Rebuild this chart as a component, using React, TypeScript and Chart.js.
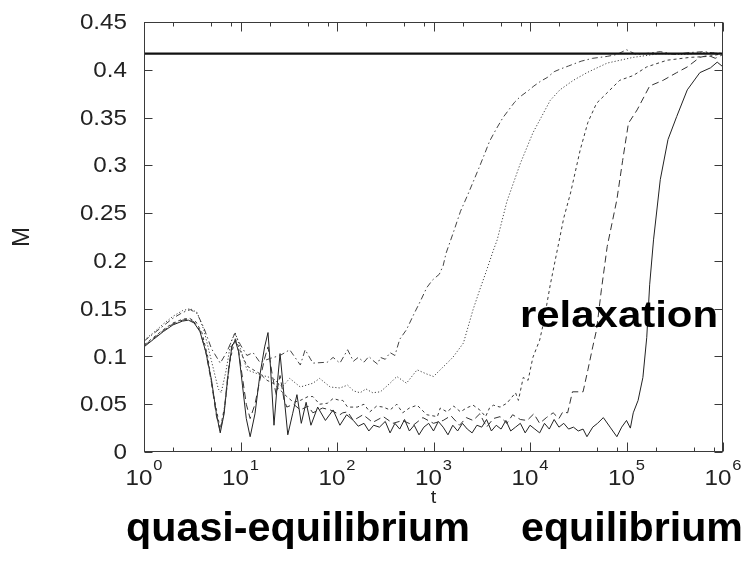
import React, { useEffect, useRef } from 'react';
import { Chart, registerables } from 'chart.js';

Chart.register(...registerables);

// ---------- data (t given as log10 t, M) ----------
const logT_solid = [0, 0.1, 0.2, 0.3, 0.4, 0.46, 0.52, 0.58, 0.64, 0.7, 0.75, 0.79, 0.83, 0.87, 0.91, 0.945, 0.98, 1.02, 1.06, 1.1, 1.15, 1.2, 1.25, 1.285, 1.31, 1.347, 1.38, 1.41, 1.45, 1.49, 1.54, 1.585, 1.63, 1.68, 1.73, 1.8, 1.88, 1.96, 2.03, 2.1, 2.17, 2.22, 2.28, 2.33, 2.38, 2.44, 2.5, 2.55, 2.6, 2.65, 2.7, 2.75, 2.8, 2.85, 2.9, 2.95, 3.0, 3.05, 3.1, 3.15, 3.2, 3.25, 3.3, 3.35, 3.4, 3.45, 3.5, 3.55, 3.6, 3.65, 3.7, 3.75, 3.8, 3.85, 3.9, 3.95, 4.0, 4.05, 4.1, 4.15, 4.2, 4.25, 4.3, 4.35, 4.4, 4.45, 4.5, 4.55, 4.59, 4.65, 4.7, 4.76, 4.83, 4.9, 4.95, 5.0, 5.04, 5.07, 5.12, 5.17, 5.21, 5.24, 5.28, 5.35, 5.43, 5.52, 5.63, 5.76, 5.87, 5.94, 6.0];
const m_solid = [0.110, 0.118, 0.126, 0.133, 0.137, 0.138, 0.135, 0.126, 0.105, 0.075, 0.040, 0.020, 0.040, 0.080, 0.110, 0.117, 0.105, 0.070, 0.035, 0.016, 0.040, 0.080, 0.110, 0.125, 0.090, 0.028, 0.070, 0.103, 0.060, 0.018, 0.040, 0.060, 0.030, 0.052, 0.028, 0.047, 0.033, 0.044, 0.028, 0.039, 0.033, 0.027, 0.030, 0.022, 0.028, 0.026, 0.032, 0.020, 0.030, 0.024, 0.034, 0.022, 0.028, 0.018, 0.026, 0.030, 0.022, 0.032, 0.026, 0.018, 0.028, 0.022, 0.030, 0.024, 0.020, 0.028, 0.026, 0.034, 0.022, 0.028, 0.024, 0.033, 0.022, 0.026, 0.030, 0.020, 0.028, 0.024, 0.020, 0.030, 0.024, 0.034, 0.026, 0.030, 0.024, 0.026, 0.022, 0.024, 0.016, 0.026, 0.030, 0.036, 0.026, 0.016, 0.026, 0.033, 0.025, 0.041, 0.054, 0.078, 0.120, 0.175, 0.222, 0.285, 0.327, 0.351, 0.379, 0.397, 0.402, 0.408, 0.403];

const logT_dashed = [0, 0.1, 0.2, 0.3, 0.4, 0.46, 0.52, 0.58, 0.64, 0.7, 0.75, 0.79, 0.83, 0.87, 0.91, 0.945, 0.98, 1.02, 1.06, 1.1, 1.15, 1.2, 1.25, 1.285, 1.33, 1.37, 1.41, 1.45, 1.48, 1.55, 1.62, 1.7, 1.75, 1.85, 1.93, 2.03, 2.06, 2.11, 2.17, 2.27, 2.37, 2.48, 2.58, 2.68, 2.79, 2.89, 3.0, 3.1, 3.18, 3.27, 3.34, 3.41, 3.48, 3.55, 3.62, 3.69, 3.76, 3.82, 3.9, 3.97, 4.04, 4.1, 4.17, 4.24, 4.3, 4.34, 4.39, 4.44, 4.5, 4.55, 4.6, 4.65, 4.69, 4.74, 4.8, 4.9, 4.96, 5.02, 5.11, 5.24, 5.38, 5.52, 5.63, 5.76, 5.85, 5.92, 6.0];
const m_dashed = [0.111, 0.119, 0.127, 0.134, 0.138, 0.139, 0.136, 0.127, 0.105, 0.072, 0.038, 0.022, 0.042, 0.082, 0.111, 0.118, 0.106, 0.078, 0.050, 0.035, 0.050, 0.075, 0.098, 0.110, 0.080, 0.060, 0.080, 0.055, 0.047, 0.050, 0.044, 0.048, 0.041, 0.046, 0.044, 0.039, 0.041, 0.042, 0.033, 0.039, 0.031, 0.037, 0.030, 0.033, 0.028, 0.036, 0.030, 0.033, 0.038, 0.028, 0.036, 0.033, 0.040, 0.026, 0.035, 0.037, 0.030, 0.039, 0.034, 0.033, 0.040, 0.030, 0.036, 0.041, 0.035, 0.042, 0.041, 0.063, 0.063, 0.063, 0.086, 0.110, 0.128, 0.170, 0.215, 0.264, 0.305, 0.344, 0.358, 0.383, 0.389, 0.397, 0.403, 0.413, 0.415, 0.412, 0.416];

const logT_short = [0, 0.1, 0.2, 0.3, 0.4, 0.47, 0.54, 0.6, 0.66, 0.72, 0.79, 0.84, 0.89, 0.945, 1.0, 1.067, 1.15, 1.2, 1.275, 1.337, 1.41, 1.48, 1.55, 1.62, 1.7, 1.75, 1.82, 1.9, 1.96, 2.03, 2.06, 2.11, 2.21, 2.28, 2.34, 2.41, 2.48, 2.55, 2.62, 2.68, 2.75, 2.83, 2.93, 3.04, 3.07, 3.14, 3.21, 3.28, 3.34, 3.41, 3.48, 3.54, 3.58, 3.62, 3.69, 3.76, 3.85, 3.88, 3.93, 3.98, 4.03, 4.1, 4.14, 4.21, 4.29, 4.35, 4.42, 4.52, 4.6, 4.69, 4.8, 4.93, 5.07, 5.21, 5.42, 5.66, 5.85, 6.0];
const m_short = [0.112, 0.120, 0.128, 0.135, 0.139, 0.140, 0.136, 0.125, 0.100, 0.060, 0.024, 0.050, 0.095, 0.119, 0.105, 0.090, 0.085, 0.082, 0.075, 0.072, 0.065, 0.058, 0.052, 0.054, 0.058, 0.058, 0.050, 0.051, 0.056, 0.054, 0.054, 0.047, 0.047, 0.050, 0.042, 0.048, 0.047, 0.044, 0.050, 0.041, 0.046, 0.049, 0.039, 0.037, 0.046, 0.042, 0.048, 0.042, 0.046, 0.049, 0.044, 0.037, 0.046, 0.049, 0.047, 0.051, 0.062, 0.054, 0.078, 0.075, 0.099, 0.117, 0.135, 0.175, 0.215, 0.245, 0.271, 0.316, 0.345, 0.365, 0.376, 0.389, 0.394, 0.403, 0.410, 0.413, 0.414, 0.417];

const logT_dotted = [0, 0.1, 0.2, 0.3, 0.4, 0.48, 0.55, 0.62, 0.7, 0.77, 0.8, 0.85, 0.9, 0.945, 1.0, 1.067, 1.2, 1.34, 1.43, 1.51, 1.62, 1.75, 1.82, 1.93, 2.03, 2.11, 2.17, 2.24, 2.3, 2.37, 2.45, 2.55, 2.62, 2.72, 2.83, 2.92, 3.0, 3.1, 3.2, 3.31, 3.35, 3.41, 3.48, 3.55, 3.62, 3.66, 3.76, 3.9, 4.03, 4.21, 4.31, 4.45, 4.59, 4.8, 5.07, 5.35, 5.6, 5.8, 6.0];
const m_dotted = [0.117, 0.125, 0.134, 0.142, 0.148, 0.150, 0.146, 0.128, 0.095, 0.066, 0.062, 0.085, 0.115, 0.125, 0.108, 0.086, 0.081, 0.077, 0.068, 0.077, 0.068, 0.072, 0.077, 0.068, 0.067, 0.070, 0.064, 0.062, 0.066, 0.062, 0.063, 0.072, 0.079, 0.072, 0.086, 0.082, 0.079, 0.089, 0.099, 0.114, 0.128, 0.149, 0.170, 0.190, 0.211, 0.222, 0.262, 0.302, 0.334, 0.368, 0.379, 0.389, 0.397, 0.407, 0.413, 0.417, 0.416, 0.418, 0.417];

const logT_dashDot = [0, 0.1, 0.2, 0.3, 0.4, 0.48, 0.55, 0.62, 0.7, 0.79, 0.86, 0.94, 1.0, 1.067, 1.13, 1.2, 1.31, 1.41, 1.51, 1.62, 1.67, 1.75, 1.9, 1.96, 2.03, 2.11, 2.17, 2.22, 2.28, 2.33, 2.37, 2.42, 2.45, 2.5, 2.55, 2.6, 2.65, 2.72, 2.8, 2.86, 2.93, 2.99, 3.06, 3.1, 3.13, 3.2, 3.28, 3.35, 3.4, 3.47, 3.53, 3.58, 3.65, 3.72, 3.78, 3.84, 3.9, 3.98, 4.04, 4.11, 4.18, 4.25, 4.32, 4.4, 4.53, 4.65, 4.8, 4.9, 5.0, 5.1, 5.2, 5.35, 5.5, 5.65, 5.8, 5.95, 6.0];
const m_dashDot = [0.116, 0.124, 0.132, 0.140, 0.146, 0.149, 0.145, 0.130, 0.108, 0.093, 0.105, 0.124, 0.112, 0.101, 0.104, 0.094, 0.098, 0.101, 0.107, 0.091, 0.107, 0.093, 0.094, 0.099, 0.093, 0.107, 0.095, 0.099, 0.094, 0.100, 0.096, 0.092, 0.099, 0.097, 0.104, 0.101, 0.118, 0.128, 0.145, 0.157, 0.172, 0.180, 0.186, 0.195, 0.208, 0.228, 0.252, 0.268, 0.280, 0.297, 0.312, 0.325, 0.338, 0.350, 0.358, 0.366, 0.372, 0.378, 0.383, 0.388, 0.392, 0.398, 0.401, 0.404, 0.409, 0.412, 0.414, 0.416, 0.421, 0.416, 0.417, 0.419, 0.416, 0.418, 0.419, 0.417, 0.418];

const equilibriumM = 0.417;
const tRange = [1, 1e6];
const xDecades = [0, 1, 2, 3, 4, 5, 6];
const xMinorMantissas = [2, 5, 8];
const yMin = 0;
const yMax = 0.45;
const yStep = 0.05;
const xTitle = 't';
const yTitle = 'M';
const labelRelaxation = 'relaxation';
const labelQuasi = 'quasi-equilibrium';
const labelEquilibrium = 'equilibrium';

// ---------- drawing helpers ----------
const FONT = '"Liberation Sans", Arial, Helvetica, sans-serif';

function toPoints(lt: number[], m: number[]) {
  return lt.map((v, i) => ({ x: Math.pow(10, v), y: m[i] }));
}

function drawStretched(
  ctx: CanvasRenderingContext2D,
  text: string,
  x: number,
  y: number,
  font: string,
  sx: number,
  align: 'left' | 'right' | 'center',
  baseline: CanvasTextBaseline
) {
  ctx.save();
  ctx.font = font;
  ctx.textBaseline = baseline;
  ctx.textAlign = 'left';
  const w = ctx.measureText(text).width * sx;
  let x0 = x;
  if (align === 'right') x0 = x - w;
  else if (align === 'center') x0 = x - w / 2;
  ctx.translate(x0, y);
  ctx.scale(sx, 1);
  ctx.fillText(text, 0, 0);
  ctx.restore();
  return w;
}

function drawFitted(
  ctx: CanvasRenderingContext2D,
  text: string,
  left: number,
  baseline: number,
  font: string,
  width: number
) {
  ctx.save();
  ctx.font = font;
  const w = ctx.measureText(text).width;
  ctx.restore();
  drawStretched(ctx, text, left, baseline, font, width / w, 'left', 'alphabetic');
}

const fmtY = (v: number) => String(Number(v.toFixed(2)));

const TICK_FONT = `22px ${FONT}`;
const SUP_FONT = `15px ${FONT}`;
const SX = 1.1;

const framePlugin = {
  id: 'gnuplotFrame',
  afterDraw(chart: any) {
    const { ctx, chartArea: a, scales } = chart;
    const xs = scales.x;
    const ys = scales.y;
    const L = Math.round(a.left) + 0.5;
    const R = Math.round(a.right) - 0.5;
    const T = Math.round(a.top) + 0.5;
    const B = Math.round(a.bottom) - 0.5;
    ctx.save();
    ctx.strokeStyle = '#3a3a3a';
    ctx.lineWidth = 1;
    ctx.setLineDash([]);
    ctx.strokeRect(L, T, R - L, B - T);

    ctx.beginPath();
    xDecades.forEach((d) => {
      const px = Math.round(xs.getPixelForValue(Math.pow(10, d))) + 0.5;
      ctx.moveTo(px, B); ctx.lineTo(px, B - 9);
      ctx.moveTo(px, T); ctx.lineTo(px, T + 9);
    });
    xDecades.slice(0, -1).forEach((d) => {
      xMinorMantissas.forEach((mm) => {
        const px = Math.round(xs.getPixelForValue(mm * Math.pow(10, d))) + 0.5;
        ctx.moveTo(px, B); ctx.lineTo(px, B - 4);
        ctx.moveTo(px, T); ctx.lineTo(px, T + 4);
      });
    });
    ys.ticks.forEach((t: any) => {
      const py = Math.round(ys.getPixelForValue(t.value)) + 0.5;
      ctx.moveTo(L, py); ctx.lineTo(L + 8, py);
      ctx.moveTo(R, py); ctx.lineTo(R - 8, py);
    });
    ctx.stroke();

    ctx.fillStyle = '#222';
    // y tick labels
    ys.ticks.forEach((t: any) => {
      const py = ys.getPixelForValue(t.value);
      drawStretched(ctx, fmtY(t.value), a.left - 17, py + 1, TICK_FONT, SX, 'right', 'middle');
    });
    // x tick labels: 10 with superscript exponent
    xDecades.forEach((d) => {
      const px = xs.getPixelForValue(Math.pow(10, d));
      ctx.font = TICK_FONT;
      const wb = ctx.measureText('10').width * SX;
      ctx.font = SUP_FONT;
      const we = ctx.measureText(String(d)).width * SX;
      const start = px - (wb + we + 1) / 2;
      drawStretched(ctx, '10', start, a.bottom + 33, TICK_FONT, SX, 'left', 'alphabetic');
      drawStretched(ctx, String(d), start + wb + 1, a.bottom + 18, SUP_FONT, SX, 'left', 'alphabetic');
    });
    // axis titles
    drawStretched(ctx, xTitle, (a.left + a.right) / 2, a.bottom + 51, `18px ${FONT}`, 1.1, 'center', 'alphabetic');
    ctx.save();
    ctx.translate(22, (a.top + a.bottom) / 2);
    ctx.rotate(-Math.PI / 2);
    ctx.font = `24px ${FONT}`;
    ctx.textAlign = 'center';
    ctx.textBaseline = 'middle';
    ctx.fillText(yTitle, 0, 0);
    ctx.restore();

    // annotations
    ctx.fillStyle = '#000';
    drawFitted(ctx, labelRelaxation, 520, 327, `bold 36px ${FONT}`, 198);
    drawFitted(ctx, labelQuasi, 126, 541, `bold 41px ${FONT}`, 344);
    drawFitted(ctx, labelEquilibrium, 521, 541, `bold 41px ${FONT}`, 222);
    ctx.restore();
  },
};

export default function App() {
  const ref = useRef<HTMLCanvasElement | null>(null);

  useEffect(() => {
    if (!ref.current) return;
    const line = (data: any, dash: number[], color: string, width = 1) => ({
      data,
      borderColor: color,
      borderWidth: width,
      borderDash: dash,
      pointRadius: 0,
      fill: false,
      tension: 0,
    });
    const chart = new Chart(ref.current, {
      type: 'line',
      data: {
        datasets: [
          line(tRange.map((t) => ({ x: t, y: equilibriumM })), [], '#111', 2.2),
          line(toPoints(logT_dashDot, m_dashDot), [6, 3, 1.5, 3], '#444'),
          line(toPoints(logT_dotted, m_dotted), [1.2, 2], '#444'),
          line(toPoints(logT_short, m_short), [3, 3], '#3a3a3a'),
          line(toPoints(logT_dashed, m_dashed), [7, 4], '#333'),
          line(toPoints(logT_solid, m_solid), [], '#222'),
        ] as any,
      },
      options: {
        animation: false,
        responsive: false,
        devicePixelRatio: 1,
        layout: { padding: { left: 0, top: 22, right: 28, bottom: 0 } },
        plugins: { legend: { display: false }, tooltip: { enabled: false } },
        scales: {
          x: {
            type: 'logarithmic',
            min: tRange[0],
            max: tRange[1],
            grid: { display: false, drawTicks: false },
            border: { display: false },
            ticks: { display: false },
            afterFit: (s: any) => { s.height = 111; },
          },
          y: {
            type: 'linear',
            min: yMin,
            max: yMax,
            grid: { display: false, drawTicks: false },
            border: { display: false },
            ticks: { display: false, stepSize: yStep },
            afterFit: (s: any) => { s.width = 144; },
          },
        } as any,
      },
      plugins: [framePlugin],
    });
    return () => chart.destroy();
  }, []);

  return (
    <div style={{ position: 'absolute', left: 0, top: 0, width: 751, height: 563, background: '#fff' }}>
      <canvas ref={ref} width={751} height={563} style={{ display: 'block' }} />
    </div>
  );
}
